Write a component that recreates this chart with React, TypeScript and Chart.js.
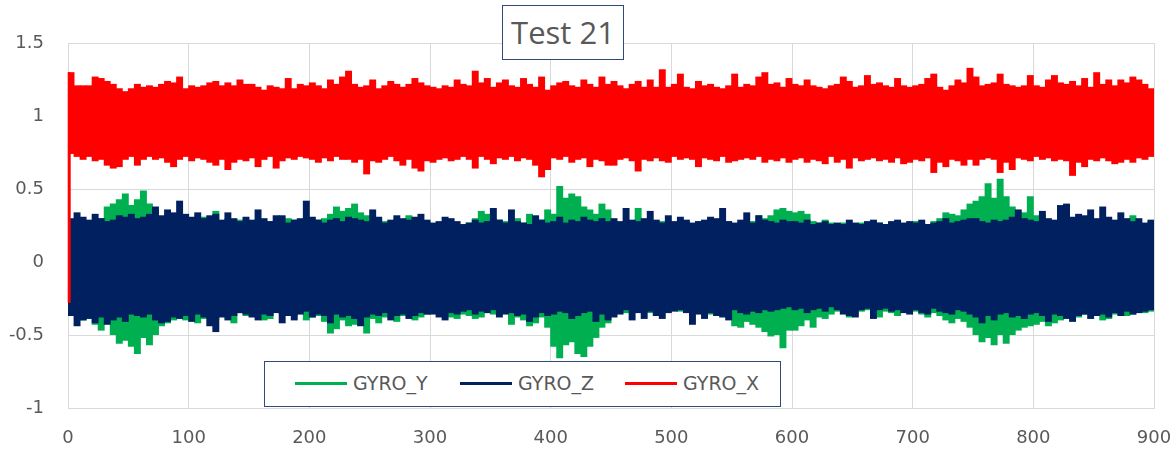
import React, { useEffect, useRef } from "react";
import { Chart, registerables } from "chart.js";

Chart.register(...registerables);

// ---- axis definitions ----
const X_MIN = 0;
const X_MAX = 900;
const X_STEP = 100;
const Y_MIN = -1;
const Y_MAX = 1.5;
const Y_STEP = 0.5;
const BIN_WIDTH = 5; // each value below is the envelope of one 5-unit slice of the signal

const seriesNames = ["GYRO_Y", "GYRO_Z", "GYRO_X"];
const seriesColors = ["#00B050", "#002060", "#FF0000"];

// ---- GYRO_X (red): upper / lower envelope per slice ----
const gyroXHigh = [
  1.30, 1.21, 1.21, 1.21, 1.27, 1.26, 1.24, 1.22, 1.19, 1.17, 1.19, 1.22, 1.20, 1.21, 1.20, 1.22, 1.24, 1.23, 1.27, 1.19, 1.21, 1.20, 1.21, 1.23, 1.24, 1.21, 1.23, 1.21, 1.25, 1.22,
  1.22, 1.20, 1.18, 1.21, 1.20, 1.19, 1.26, 1.19, 1.22, 1.21, 1.23, 1.21, 1.19, 1.25, 1.22, 1.27, 1.31, 1.22, 1.20, 1.21, 1.25, 1.19, 1.21, 1.24, 1.22, 1.20, 1.22, 1.26, 1.23, 1.21,
  1.20, 1.19, 1.21, 1.20, 1.25, 1.22, 1.21, 1.31, 1.23, 1.26, 1.20, 1.23, 1.25, 1.21, 1.20, 1.26, 1.22, 1.20, 1.27, 1.18, 1.21, 1.23, 1.24, 1.21, 1.20, 1.25, 1.22, 1.20, 1.27, 1.22,
  1.24, 1.21, 1.19, 1.22, 1.24, 1.20, 1.25, 1.20, 1.32, 1.20, 1.22, 1.29, 1.20, 1.19, 1.24, 1.21, 1.22, 1.20, 1.19, 1.21, 1.29, 1.20, 1.22, 1.21, 1.27, 1.30, 1.22, 1.23, 1.20, 1.26,
  1.22, 1.21, 1.25, 1.21, 1.20, 1.19, 1.21, 1.22, 1.27, 1.24, 1.20, 1.21, 1.28, 1.22, 1.23, 1.21, 1.20, 1.26, 1.21, 1.20, 1.21, 1.22, 1.26, 1.29, 1.20, 1.18, 1.21, 1.25, 1.23, 1.33,
  1.27, 1.21, 1.22, 1.23, 1.29, 1.22, 1.21, 1.20, 1.21, 1.28, 1.21, 1.20, 1.25, 1.28, 1.23, 1.22, 1.24, 1.21, 1.26, 1.20, 1.30, 1.22, 1.25, 1.21, 1.25, 1.23, 1.27, 1.25, 1.22, 1.19,
];
const gyroXLow = [
  0.74, 0.72, 0.70, 0.72, 0.69, 0.70, 0.66, 0.64, 0.65, 0.70, 0.72, 0.66, 0.70, 0.72, 0.70, 0.71, 0.68, 0.65, 0.70, 0.72, 0.69, 0.71, 0.70, 0.68, 0.66, 0.70, 0.63, 0.68, 0.70, 0.69,
  0.71, 0.65, 0.70, 0.72, 0.64, 0.69, 0.71, 0.70, 0.72, 0.71, 0.70, 0.68, 0.71, 0.69, 0.72, 0.70, 0.70, 0.68, 0.70, 0.60, 0.69, 0.68, 0.70, 0.72, 0.69, 0.66, 0.70, 0.64, 0.62, 0.69,
  0.68, 0.70, 0.71, 0.69, 0.70, 0.72, 0.70, 0.64, 0.72, 0.70, 0.67, 0.71, 0.70, 0.72, 0.69, 0.71, 0.70, 0.66, 0.58, 0.63, 0.71, 0.70, 0.72, 0.68, 0.70, 0.71, 0.65, 0.70, 0.69, 0.66,
  0.66, 0.70, 0.71, 0.69, 0.62, 0.70, 0.69, 0.71, 0.69, 0.68, 0.72, 0.70, 0.71, 0.70, 0.65, 0.71, 0.70, 0.69, 0.72, 0.68, 0.69, 0.70, 0.71, 0.70, 0.72, 0.68, 0.70, 0.69, 0.71, 0.68,
  0.70, 0.71, 0.68, 0.70, 0.69, 0.67, 0.72, 0.68, 0.70, 0.64, 0.71, 0.69, 0.70, 0.71, 0.69, 0.70, 0.68, 0.71, 0.67, 0.68, 0.70, 0.69, 0.71, 0.61, 0.68, 0.65, 0.70, 0.69, 0.66, 0.70,
  0.66, 0.70, 0.71, 0.70, 0.61, 0.68, 0.63, 0.71, 0.70, 0.69, 0.72, 0.70, 0.71, 0.69, 0.70, 0.69, 0.59, 0.68, 0.65, 0.70, 0.69, 0.71, 0.69, 0.67, 0.68, 0.70, 0.68, 0.71, 0.70, 0.72,
];
// GYRO_X start-up transient (first samples, at t = 1)
const gyroXStartX = [1, 1];
const gyroXStartY = [-0.28, 1.3];

// ---- GYRO_Z (navy) ----
const gyroZHigh = [
  0.30, 0.34, 0.31, 0.29, 0.33, 0.30, 0.28, 0.29, 0.32, 0.31, 0.33, 0.30, 0.31, 0.33, 0.38, 0.32, 0.36, 0.34, 0.42, 0.33, 0.31, 0.34, 0.30, 0.32, 0.33, 0.29, 0.34, 0.30, 0.28, 0.31,
  0.29, 0.36, 0.30, 0.28, 0.32, 0.32, 0.27, 0.29, 0.30, 0.42, 0.31, 0.29, 0.27, 0.29, 0.30, 0.28, 0.31, 0.30, 0.29, 0.28, 0.36, 0.31, 0.27, 0.29, 0.32, 0.30, 0.29, 0.31, 0.33, 0.29,
  0.27, 0.28, 0.31, 0.30, 0.28, 0.26, 0.27, 0.29, 0.27, 0.28, 0.37, 0.29, 0.27, 0.36, 0.28, 0.27, 0.26, 0.32, 0.29, 0.27, 0.28, 0.31, 0.27, 0.29, 0.28, 0.31, 0.29, 0.28, 0.30, 0.28,
  0.30, 0.28, 0.37, 0.29, 0.28, 0.30, 0.35, 0.29, 0.27, 0.32, 0.28, 0.31, 0.29, 0.27, 0.28, 0.29, 0.31, 0.30, 0.37, 0.28, 0.27, 0.29, 0.34, 0.27, 0.32, 0.29, 0.28, 0.27, 0.29, 0.28,
  0.28, 0.27, 0.29, 0.26, 0.27, 0.28, 0.26, 0.27, 0.26, 0.29, 0.27, 0.26, 0.28, 0.29, 0.27, 0.26, 0.28, 0.29, 0.27, 0.28, 0.27, 0.29, 0.26, 0.27, 0.28, 0.30, 0.27, 0.28, 0.29, 0.30,
  0.30, 0.28, 0.27, 0.29, 0.28, 0.29, 0.31, 0.36, 0.30, 0.29, 0.28, 0.35, 0.30, 0.29, 0.39, 0.40, 0.31, 0.33, 0.32, 0.36, 0.30, 0.38, 0.31, 0.29, 0.34, 0.30, 0.28, 0.30, 0.27, 0.29,
];
const gyroZLow = [
  -0.37, -0.44, -0.40, -0.39, -0.42, -0.38, -0.43, -0.40, -0.38, -0.41, -0.36, -0.37, -0.38, -0.36, -0.40, -0.42, -0.41, -0.38, -0.39, -0.37, -0.41, -0.36, -0.38, -0.44, -0.48, -0.38, -0.40, -0.37, -0.35, -0.36,
  -0.38, -0.40, -0.36, -0.37, -0.35, -0.42, -0.37, -0.40, -0.36, -0.34, -0.38, -0.36, -0.37, -0.42, -0.36, -0.38, -0.37, -0.39, -0.44, -0.38, -0.36, -0.37, -0.35, -0.40, -0.37, -0.36, -0.39, -0.37, -0.35, -0.36,
  -0.36, -0.38, -0.40, -0.35, -0.36, -0.34, -0.33, -0.36, -0.34, -0.35, -0.33, -0.38, -0.36, -0.35, -0.37, -0.36, -0.41, -0.38, -0.35, -0.37, -0.36, -0.34, -0.35, -0.39, -0.37, -0.35, -0.34, -0.41, -0.36, -0.40,
  -0.38, -0.36, -0.33, -0.40, -0.35, -0.39, -0.34, -0.37, -0.39, -0.35, -0.34, -0.33, -0.35, -0.43, -0.36, -0.39, -0.35, -0.37, -0.38, -0.40, -0.33, -0.35, -0.36, -0.34, -0.35, -0.33, -0.34, -0.33, -0.32, -0.31,
  -0.33, -0.32, -0.35, -0.33, -0.32, -0.34, -0.31, -0.33, -0.36, -0.37, -0.38, -0.33, -0.32, -0.39, -0.33, -0.32, -0.34, -0.33, -0.35, -0.36, -0.33, -0.35, -0.36, -0.32, -0.34, -0.35, -0.36, -0.33, -0.34, -0.36,
  -0.38, -0.42, -0.37, -0.40, -0.36, -0.35, -0.38, -0.37, -0.39, -0.36, -0.35, -0.37, -0.41, -0.36, -0.37, -0.39, -0.41, -0.37, -0.36, -0.39, -0.37, -0.36, -0.38, -0.35, -0.37, -0.34, -0.36, -0.35, -0.34, -0.33,
];

// ---- GYRO_Y (green) ----
const gyroYHigh = [
  0.25, 0.26, 0.27, 0.25, 0.28, 0.30, 0.38, 0.40, 0.43, 0.47, 0.39, 0.43, 0.49, 0.40, 0.36, 0.30, 0.29, 0.31, 0.33, 0.28, 0.27, 0.30, 0.31, 0.29, 0.35, 0.28, 0.30, 0.27, 0.29, 0.28,
  0.25, 0.27, 0.26, 0.28, 0.26, 0.27, 0.30, 0.29, 0.27, 0.28, 0.27, 0.29, 0.30, 0.33, 0.38, 0.35, 0.37, 0.40, 0.34, 0.32, 0.30, 0.29, 0.28, 0.27, 0.28, 0.26, 0.32, 0.29, 0.27, 0.28,
  0.24, 0.26, 0.25, 0.27, 0.26, 0.25, 0.27, 0.30, 0.35, 0.33, 0.30, 0.29, 0.28, 0.27, 0.30, 0.27, 0.33, 0.31, 0.29, 0.36, 0.33, 0.52, 0.44, 0.47, 0.45, 0.38, 0.36, 0.33, 0.40, 0.36,
  0.26, 0.27, 0.28, 0.26, 0.37, 0.29, 0.27, 0.26, 0.28, 0.27, 0.26, 0.25, 0.27, 0.26, 0.28, 0.27, 0.26, 0.25, 0.27, 0.28, 0.26, 0.27, 0.26, 0.28, 0.32, 0.30, 0.32, 0.36, 0.37, 0.35,
  0.34, 0.35, 0.33, 0.28, 0.27, 0.29, 0.27, 0.26, 0.27, 0.26, 0.25, 0.27, 0.26, 0.28, 0.27, 0.26, 0.27, 0.28, 0.26, 0.27, 0.28, 0.27, 0.26, 0.28, 0.30, 0.34, 0.33, 0.32, 0.36, 0.40,
  0.42, 0.45, 0.54, 0.44, 0.57, 0.45, 0.38, 0.33, 0.34, 0.45, 0.32, 0.33, 0.28, 0.27, 0.28, 0.27, 0.26, 0.28, 0.27, 0.26, 0.27, 0.28, 0.26, 0.27, 0.26, 0.28, 0.32, 0.27, 0.26, 0.28,
];
const gyroYLow = [
  -0.33, -0.36, -0.40, -0.38, -0.43, -0.47, -0.42, -0.50, -0.56, -0.54, -0.58, -0.63, -0.52, -0.57, -0.50, -0.44, -0.42, -0.40, -0.38, -0.40, -0.37, -0.42, -0.39, -0.36, -0.40, -0.37, -0.38, -0.42, -0.35, -0.37,
  -0.36, -0.37, -0.40, -0.39, -0.34, -0.36, -0.35, -0.37, -0.33, -0.40, -0.38, -0.37, -0.41, -0.49, -0.46, -0.40, -0.44, -0.43, -0.42, -0.49, -0.39, -0.42, -0.38, -0.36, -0.41, -0.37, -0.35, -0.40, -0.38, -0.36,
  -0.35, -0.34, -0.36, -0.38, -0.39, -0.36, -0.37, -0.39, -0.38, -0.35, -0.36, -0.34, -0.35, -0.43, -0.38, -0.40, -0.44, -0.42, -0.38, -0.45, -0.58, -0.66, -0.57, -0.55, -0.63, -0.65, -0.58, -0.52, -0.45, -0.42,
  -0.34, -0.33, -0.35, -0.34, -0.33, -0.32, -0.35, -0.33, -0.34, -0.32, -0.33, -0.34, -0.32, -0.35, -0.33, -0.34, -0.36, -0.35, -0.33, -0.34, -0.44, -0.45, -0.41, -0.43, -0.45, -0.48, -0.51, -0.50, -0.59, -0.47,
  -0.47, -0.44, -0.40, -0.45, -0.38, -0.39, -0.36, -0.34, -0.33, -0.38, -0.35, -0.34, -0.33, -0.35, -0.38, -0.34, -0.35, -0.37, -0.34, -0.33, -0.34, -0.36, -0.38, -0.35, -0.37, -0.40, -0.42, -0.39, -0.41, -0.45,
  -0.50, -0.55, -0.52, -0.57, -0.50, -0.56, -0.50, -0.47, -0.45, -0.44, -0.43, -0.41, -0.44, -0.42, -0.40, -0.38, -0.37, -0.38, -0.36, -0.35, -0.37, -0.40, -0.39, -0.36, -0.35, -0.37, -0.36, -0.34, -0.35, -0.34,
];

const TICK_COLOR = "#595959";
const GRID_COLOR = "#D9D9D9";
const FRAME_COLOR = "#2E4B7B";

function bandData(low: number[], high: number[]) {
  return low.map((lo, i) => ({ x: i * BIN_WIDTH + BIN_WIDTH / 2, y: [lo, high[i]] }));
}

function band(label: string, low: number[], high: number[], color: string, order: number) {
  return {
    type: "bar" as const,
    label,
    data: bandData(low, high),
    backgroundColor: color,
    borderWidth: 0,
    grouped: false,
    barPercentage: 1.15,
    categoryPercentage: 1,
    order,
  };
}

export default function App() {
  const canvasRef = useRef<HTMLCanvasElement>(null);

  useEffect(() => {
    if (!canvasRef.current) return;
    const chart = new Chart(canvasRef.current, {
      type: "bar",
      data: {
        datasets: [
          band(seriesNames[0], gyroYLow, gyroYHigh, seriesColors[0], 3),
          band(seriesNames[1], gyroZLow, gyroZHigh, seriesColors[1], 2),
          band(seriesNames[2], gyroXLow, gyroXHigh, seriesColors[2], 1),
          {
            type: "line" as const,
            label: "GYRO_X start",
            data: gyroXStartX.map((x, i) => ({ x, y: gyroXStartY[i] })),
            borderColor: seriesColors[2],
            borderWidth: 3,
            pointRadius: 0,
            clip: false as any,
            order: 0,
          },
        ] as any,
      },
      options: {
        responsive: false,
        animation: false,
        layout: { padding: { left: 0, top: 43, right: 21, bottom: 0 } },
        plugins: {
          legend: { display: false },
          title: { display: false },
          tooltip: { enabled: false },
        },
        scales: {
          x: {
            type: "linear",
            min: X_MIN,
            max: X_MAX,
            offset: false,
            grid: { color: GRID_COLOR, lineWidth: 1, drawTicks: false, offset: false },
            border: { color: GRID_COLOR, width: 1 },
            ticks: {
              stepSize: X_STEP,
              color: TICK_COLOR,
              font: { family: "DejaVu Sans", size: 18 },
              padding: 20,
              maxRotation: 0,
              autoSkip: false,
            },
            afterFit: (scale: any) => {
              scale.height = 42;
              scale.paddingLeft = 0;
              scale.paddingRight = 0;
            },
          },
          y: {
            type: "linear",
            min: Y_MIN,
            max: Y_MAX,
            grid: { color: GRID_COLOR, lineWidth: 1, drawTicks: false },
            border: { color: GRID_COLOR, width: 1 },
            ticks: {
              stepSize: Y_STEP,
              color: TICK_COLOR,
              font: { family: "DejaVu Sans", size: 18 },
              padding: 24,
              callback: (v: any) => String(v),
            },
            afterFit: (scale: any) => {
              scale.width = 68;
              scale.paddingTop = 0;
              scale.paddingBottom = 0;
            },
          },
        },
      } as any,
    });
    return () => chart.destroy();
  }, []);

  const legendItems = [
    { line: 30, text: 88 },
    { line: 195, text: 253 },
    { line: 360, text: 418 },
  ];

  return (
    <div style={{ position: "absolute", left: 0, top: 0, width: 1175, height: 450, background: "#fff" }}>
      <canvas ref={canvasRef} width={1175} height={450} style={{ display: "block" }} />
      <div
        style={{
          position: "absolute",
          left: 502,
          top: 5,
          width: 122,
          height: 55,
          boxSizing: "border-box",
          border: `1.5px solid ${FRAME_COLOR}`,
          background: "#fff",
          display: "flex",
          alignItems: "center",
          justifyContent: "center",
          fontFamily: "'Open Sans', sans-serif",
          fontSize: 31,
          color: TICK_COLOR,
          lineHeight: 1,
        }}
      >
        Test 21
      </div>
      <div
        style={{
          position: "absolute",
          left: 264,
          top: 361,
          width: 517,
          height: 46,
          boxSizing: "border-box",
          border: `1.5px solid ${FRAME_COLOR}`,
          background: "#fff",
        }}
      >
        {seriesNames.map((name, i) => (
          <React.Fragment key={name}>
            <div
              style={{
                position: "absolute",
                left: legendItems[i].line,
                top: 20,
                width: 52,
                height: 3,
                background: seriesColors[i],
              }}
            />
            <div
              style={{
                position: "absolute",
                left: legendItems[i].text,
                top: 10,
                height: 23,
                lineHeight: "23px",
                fontFamily: "'DejaVu Sans', sans-serif",
                fontSize: 19,
                color: TICK_COLOR,
                whiteSpace: "nowrap",
              }}
            >
              {name}
            </div>
          </React.Fragment>
        ))}
      </div>
    </div>
  );
}
